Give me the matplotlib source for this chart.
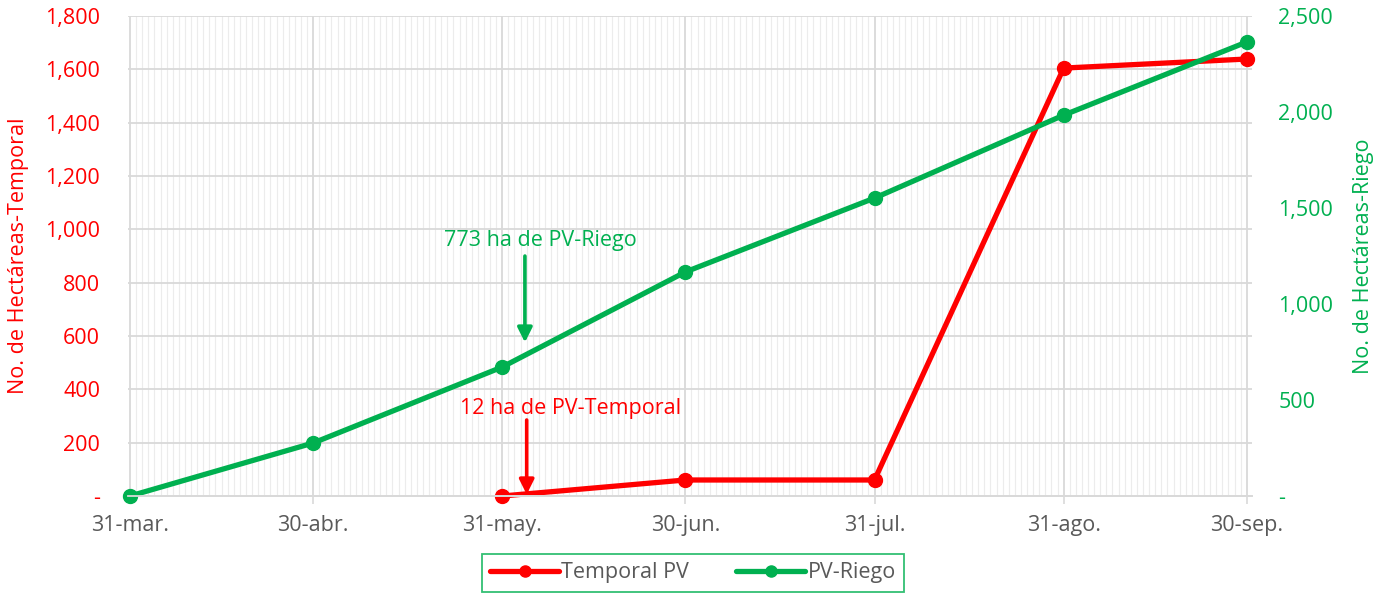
import datetime as dt
import matplotlib
matplotlib.use("Agg")
import matplotlib.pyplot as plt
import matplotlib.dates as mdates
from matplotlib.ticker import FuncFormatter

plt.rcParams['font.family'] = ['Open Sans', 'DejaVu Sans']

# ----- datos -----
fechas_riego = ["2021-03-31", "2021-04-30", "2021-05-31", "2021-06-30",
                "2021-07-31", "2021-08-31", "2021-09-30"]
riego = [0, 276, 672, 1167, 1552, 1984, 2365]

fechas_temporal = ["2021-05-31", "2021-06-30", "2021-07-31",
                   "2021-08-31", "2021-09-30"]
temporal = [0, 60, 60, 1605, 1639]

etiquetas_x = ["31-mar.", "30-abr.", "31-may.", "30-jun.",
               "31-jul.", "31-ago.", "30-sep."]

ROJO = "#FF0000"
VERDE = "#00B050"
GRIS = "#595959"
FS = 15.5

d_riego = [dt.datetime.strptime(f, "%Y-%m-%d") for f in fechas_riego]
d_temp = [dt.datetime.strptime(f, "%Y-%m-%d") for f in fechas_temporal]

fig = plt.figure(figsize=(13.84, 5.96), dpi=100)
ax1 = fig.add_axes([0.0925, 0.1678, 0.812, 0.8052])
ax2 = ax1.twinx()

l1, = ax1.plot(d_temp, temporal, color=ROJO, lw=3.8, marker='o', ms=10,
               label="Temporal PV", solid_capstyle='round', clip_on=False)
l2, = ax2.plot(d_riego, riego, color=VERDE, lw=3.8, marker='o', ms=10,
               label="PV-Riego", solid_capstyle='round', clip_on=False)

# ejes
ax1.set_xlim(d_riego[0] - dt.timedelta(hours=8), d_riego[-1] + dt.timedelta(hours=20))
ax1.set_ylim(0, 1800)
ax2.set_ylim(0, 2500)
ax1.set_yticks(range(0, 1801, 200))
ax2.set_yticks(range(0, 2501, 500))

fmt = FuncFormatter(lambda v, p: "-" if v == 0 else f"{int(v):,}")
ax1.yaxis.set_major_formatter(fmt)
ax2.yaxis.set_major_formatter(fmt)

ax1.set_xticks(d_riego)
ax1.set_xticklabels(etiquetas_x)
ax1.xaxis.set_minor_locator(mdates.DayLocator())

ax1.tick_params(axis='x', which='major', colors="#d9d9d9", length=6, width=1.2,
                labelcolor=GRIS, labelsize=FS, pad=8)
ax1.tick_params(axis='x', which='minor', length=0)
ax1.tick_params(axis='y', length=0, labelcolor=ROJO, labelsize=FS, pad=20)
ax2.tick_params(axis='y', length=0, labelcolor=VERDE, labelsize=FS, pad=19)

ax1.grid(which='major', axis='x', color="#d9d9d9", lw=1.3)
ax1.grid(which='minor', axis='x', color="#ececec", lw=0.8)
ax1.grid(which='major', axis='y', color="#d9d9d9", lw=1.3)
ax1.set_axisbelow(True)

for ax in (ax1, ax2):
    for s in ("top", "left", "right"):
        ax.spines[s].set_visible(False)
    ax.spines["bottom"].set_color("#d9d9d9")
    ax.spines["bottom"].set_linewidth(1.3)

ax1.set_ylabel("No. de Hectáreas-Temporal", color=ROJO, fontsize=FS, labelpad=12)
ax2.set_ylabel("No. de Hectáreas-Riego", color=VERDE, fontsize=FS, labelpad=14)

# anotaciones
x_txt_v = dt.datetime(2021, 6, 6, 4)
x_flecha_v = dt.datetime(2021, 6, 3, 17)
ax2.text(x_txt_v, 1333, "773 ha de PV-Riego", color=VERDE, fontsize=FS,
         ha='center', va='center')
ax2.annotate("", xy=(x_flecha_v, 800), xytext=(x_flecha_v, 1250),
             arrowprops=dict(arrowstyle='-|>', color=VERDE, lw=2.6,
                             mutation_scale=22, shrinkA=0, shrinkB=0))

x_txt_r = dt.datetime(2021, 6, 11, 6)
x_flecha_r = dt.datetime(2021, 6, 4)
ax1.text(x_txt_r, 330, "12 ha de PV-Temporal", color=ROJO, fontsize=FS,
         ha='center', va='center')
ax1.annotate("", xy=(x_flecha_r, 6), xytext=(x_flecha_r, 285),
             arrowprops=dict(arrowstyle='-|>', color=ROJO, lw=2.6,
                             mutation_scale=22, shrinkA=0, shrinkB=0))

leg = fig.legend(handles=[l1, l2], loc='center', bbox_to_anchor=(0.5007, 0.0386),
                 ncol=2, frameon=True, fancybox=False, fontsize=FS,
                 handlelength=3.2, columnspacing=2.2, borderpad=0.4,
                 handletextpad=0.1, borderaxespad=0)
leg.get_frame().set_edgecolor(VERDE)
leg.get_frame().set_linewidth(1.3)
for t in leg.get_texts():
    t.set_color(GRIS)
for h in leg.legend_handles:
    h.set_markersize(8)

fig.savefig("out.png", dpi=100)
